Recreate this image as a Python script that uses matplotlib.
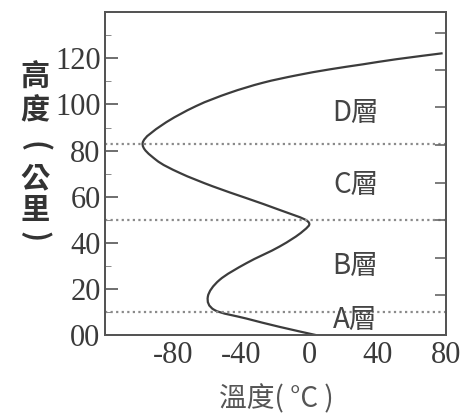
import numpy as np
import matplotlib.pyplot as plt
from matplotlib.path import Path
from matplotlib.patches import PathPatch

plt.rcParams['font.family'] = ['Liberation Serif', 'Noto Sans CJK TC']
plt.rcParams['axes.unicode_minus'] = False

# temperature profile (deg C, km)
temp = [4, -17.6, -37, -55.7, -59.6, -52.8, -37, -17.6, -4, -1, -17.6, -37, -56.7, -76, -90, -97.8,
        -86, -66.5, -47, -27.4, -7.8, 11.7, 31.3, 50.8, 78]
height = [0, 3.6, 7.2, 10.9, 16.7, 23.9, 31.2, 38.4, 45, 49.3, 54.3, 59.4, 64.5, 70.3, 76, 83.3,
          91.3, 99.3, 105, 109.4, 112.6, 115.2, 117.4, 119.6, 122.2]

boundaries = [10, 50, 83]
layer_names = ["A層", "B層", "C層", "D層"]
layer_y = [6.5, 30, 65, 96.5]

y_ticks = [0, 20, 40, 60, 80, 100, 120]
y_labels = ["00", "20", "40", "60", "80", "100", "120"]
x_ticks = [-80, -40, 0, 40, 80]
right_ticks = [17.4, 33.5, 50, 66, 82.6, 99, 115, 131]

ylabel_chars = ["高", "度", "(", "公", "里", ")"]
ylabel_pos = [77, 110, 147, 178, 210, 237]   # pixel rows from top

txt = "#3a3a3a"
fig = plt.figure(figsize=(4.72, 4.2), dpi=100)
ax = fig.add_axes([0.222, 0.202, 0.723, 0.769])


def smooth_path(xs, ys):
    # catmull-rom through the read points, drawn as cubic bezier segments
    p = np.column_stack([xs, ys]).astype(float)
    p = np.vstack([p[0], p, p[-1]])
    verts = [p[1]]
    codes = [Path.MOVETO]
    for i in range(1, len(p) - 2):
        c1 = p[i] + (p[i + 1] - p[i - 1]) / 6
        c2 = p[i + 1] - (p[i + 2] - p[i]) / 6
        verts += [c1, c2, p[i + 1]]
        codes += [Path.CURVE4] * 3
    return Path(verts, codes)


ax.add_patch(PathPatch(smooth_path(temp, height), fill=False, ec="#3c3c3c", lw=1.6))
for b in boundaries:
    ax.axhline(b, color="#8a8a8a", lw=1.6, ls=(0, (1, 1.5)))

for name, yy in zip(layer_names, layer_y):
    ax.text(27, yy, name, fontsize=20, ha="center", va="center", color="#444444",
            family=["Noto Sans CJK TC", "DejaVu Sans"])

ax.set_xlim(-120, 80)
ax.set_ylim(0, 140)
ax.set_yticks(y_ticks)
ax.set_yticklabels(y_labels)
ax.set_yticks(np.arange(10, 140, 20), minor=True)
ax.set_xticks(x_ticks)
ax.tick_params(axis="y", direction="in", length=9, width=1.2, color="#555555", pad=3,
               labelsize=22, labelcolor=txt)
ax.tick_params(axis="y", which="minor", direction="in", length=4, color="#777777")
ax.tick_params(axis="x", length=0, pad=4, labelsize=22, labelcolor=txt)

ax2 = ax.twinx()
ax2.set_ylim(0, 140)
ax2.set_yticks(right_ticks)
ax2.tick_params(axis="y", direction="in", length=8, width=1.2, color="#666666", labelright=False)

for a in (ax, ax2):
    for s in a.spines.values():
        s.set_color("#555555")
        s.set_linewidth(1.4)

for ch, py in zip(ylabel_chars, ylabel_pos):
    rot = -90 if ch in "()" else 0
    fig.text(35 / 472, 1 - py / 420, ch, fontsize=21, ha="center", va="center", rotation=rot,
             color="#333333", fontweight="bold", family=["Noto Sans CJK TC", "DejaVu Sans"])
fig.text(0.585, 0.05, "溫度( °C )", fontsize=20, ha="center", va="center", color="#555555",
         family=["Noto Sans CJK TC", "DejaVu Sans"])

fig.savefig("out.png", dpi=100)
